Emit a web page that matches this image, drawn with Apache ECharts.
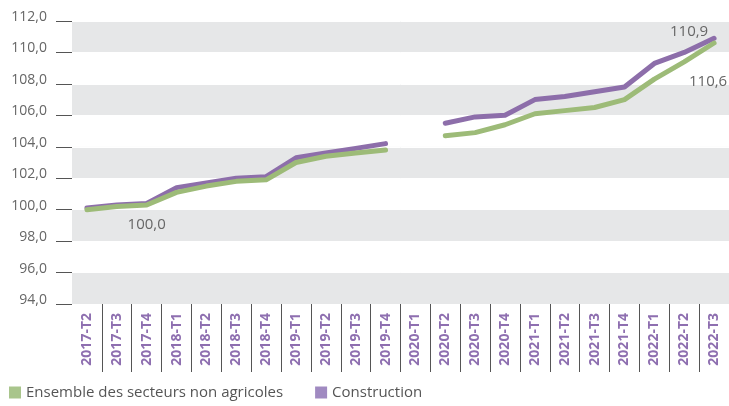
<!DOCTYPE html>
<html>
<head>
<meta charset="utf-8">
<script src="https://cdn.jsdelivr.net/npm/echarts@6/dist/echarts.min.js"></script>
<style>
  html, body { margin: 0; padding: 0; background: #fff; }
  #chart { width: 729px; height: 406px; }
</style>
</head>
<body>
<div id="chart"></div>
<script>
var quarters = [
    '2017-T2', '2017-T3', '2017-T4',
    '2018-T1', '2018-T2', '2018-T3', '2018-T4',
    '2019-T1', '2019-T2', '2019-T3', '2019-T4',
    '2020-T1', '2020-T2', '2020-T3', '2020-T4',
    '2021-T1', '2021-T2', '2021-T3', '2021-T4',
    '2022-T1', '2022-T2', '2022-T3'
];
// indices 100 ; 2020-T1 manquant
var ensemble = [100.0, 100.2, 100.3, 101.1, 101.5, 101.8, 101.9, 103.0, 103.4, 103.6, 103.8,
    null, 104.7, 104.9, 105.4, 106.1, 106.3, 106.5, 107.0, 108.3, 109.4, 110.6];
var construction = [100.1, 100.3, 100.4, 101.4, 101.7, 102.0, 102.1, 103.3, 103.6, 103.9, 104.2,
    null, 105.5, 105.9, 106.0, 107.0, 107.2, 107.5, 107.8, 109.3, 110.0, 110.9];
var yTicks = [94, 96, 98, 100, 102, 104, 106, 108, 110, 112];

var seriesNames = ['Ensemble des secteurs non agricoles', 'Construction'];
var green = '#9dbb78', purple = '#8d6eaa';

function fr(v) {
    return v.toFixed(1).replace('.', ',');
}

// separateurs entre trimestres (pas aux extremites)
var dividers = quarters.slice(1).map(function (q, i) { return i + 1; });

function pointLabel(text, offset) {
    return {
        show: true, position: 'inside', offset: offset,
        color: '#666', fontSize: 15, fontFamily: 'Open Sans',
        formatter: text
    };
}

var greenData = ensemble.slice();
greenData[2] = { value: ensemble[2], label: pointLabel('100,0', [0, 20]) };
greenData[21] = { value: ensemble[21], label: pointLabel(fr(ensemble[21]), [-6, 39]) };
var purpleData = construction.slice();
purpleData[21] = { value: construction[21], label: pointLabel(fr(construction[21]), [-25, -7]) };

var chart = echarts.init(document.getElementById('chart'));
chart.setOption({
    animation: false,
    textStyle: { fontFamily: 'Open Sans' },
    grid: { left: 72, right: -3, top: 21, bottom: 102, containLabel: false },
    legend: {
        left: 4, bottom: 1,
        icon: 'rect', itemWidth: 12, itemHeight: 12, itemGap: 32,
        textStyle: { color: '#555', fontSize: 15, fontFamily: 'Open Sans' },
        data: [
            { name: seriesNames[0], itemStyle: { color: '#a9c58c' } },
            { name: seriesNames[1], itemStyle: { color: '#a08ac1' } }
        ]
    },
    xAxis: [
        {
            type: 'category',
            data: quarters,
            boundaryGap: true,
            axisLine: { show: false },
            axisTick: { show: false },
            axisLabel: {
                rotate: 90, interval: 0, margin: 9,
                color: '#8e6fb0', fontWeight: 'bold', fontSize: 14, fontFamily: 'Open Sans'
            },
            splitLine: { show: false }
        },
        {
            type: 'value',
            position: 'bottom',
            min: 0, max: quarters.length,
            axisLine: { show: false },
            axisLabel: { show: false },
            splitLine: { show: false },
            axisTick: {
                show: true, length: 68, customValues: dividers,
                lineStyle: { color: '#555', width: 1 }
            }
        }
    ],
    yAxis: {
        type: 'value',
        min: yTicks[0], max: yTicks[yTicks.length - 1], interval: 2,
        axisLine: { show: false },
        axisTick: { show: true, length: 16, lineStyle: { color: '#555' } },
        axisLabel: {
            margin: 25, color: '#666', fontSize: 14, fontFamily: 'Open Sans',
            verticalAlign: 'bottom', lineHeight: 8,
            formatter: function (v) { return fr(v); }
        },
        splitLine: { show: true, lineStyle: { color: '#fff', width: 1 } },
        splitArea: { show: true, areaStyle: { color: ['#e6e7e8', '#ffffff'] } }
    },
    series: [
        {
            name: seriesNames[1], type: 'line', data: purpleData,
            symbol: 'circle', symbolSize: 0.01, connectNulls: false, z: 2,
            lineStyle: { color: purple, width: 5, cap: 'round', join: 'round' },
            itemStyle: { color: purple }
        },
        {
            name: seriesNames[0], type: 'line', data: greenData,
            symbol: 'circle', symbolSize: 0.01, connectNulls: false, z: 3,
            lineStyle: { color: green, width: 5, cap: 'round', join: 'round' },
            itemStyle: { color: green }
        }
    ]
});
</script>
</body>
</html>
